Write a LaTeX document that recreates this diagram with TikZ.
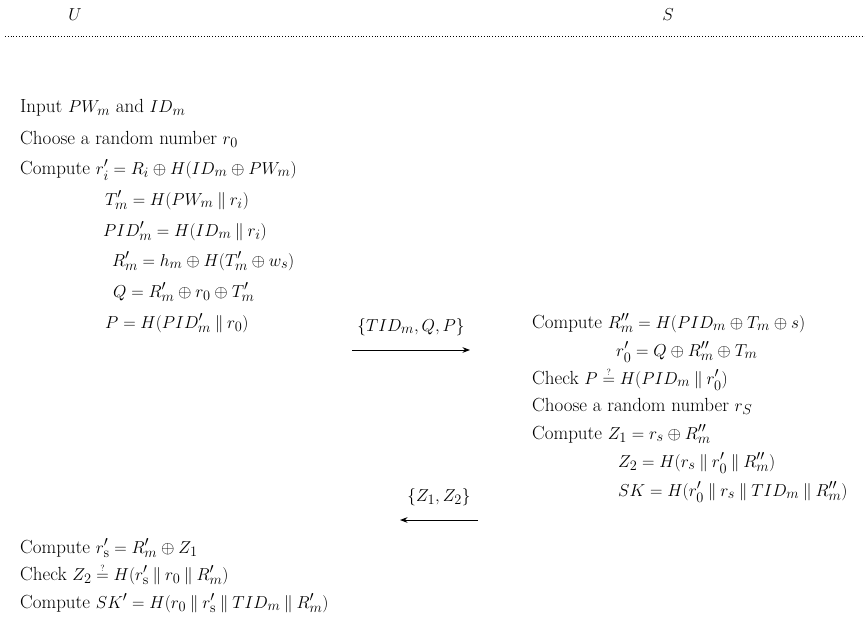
\documentclass[tikz,border=0pt]{standalone}
\usepackage{amsfonts,amssymb,amsmath}
\usepackage{tikz}
\usetikzlibrary{arrows.meta}

\tikzset{
  stepline/.style={anchor=base west,inner sep=0pt,text height=13pt,text depth=4pt,font=\fontsize{19}{23}\selectfont},
  party/.style={inner sep=0pt,font=\fontsize{19}{23}\selectfont},
  msg/.style={-Stealth,line width=1pt},
  msglabel/.style={above=14pt,inner sep=0pt,font=\fontsize{19}{23}\selectfont}
}
\newcommand{\cat}{\mathbin{\|}}
\newcommand{\chk}{\mathrel{\smash{\overset{\raisebox{-3pt}{$\scriptscriptstyle ?$}}{=}}}}

\begin{document}
\begin{tikzpicture}[x=1pt,y=-1pt,>=Stealth]
\useasboundingbox (0,0) rectangle (865,634);
\node[party] (U) at (75,15) {$U$};
\node[party] (S) at (668,15) {$S$};
\draw[dotted,line width=0.8pt] (5,36)--(865,36);
% user, registration side
\node[stepline] (u1) at (20,113) {Input $PW_m$ and $ID_m$};
\node[stepline] (u2) at (20,144) {Choose a random number $r_0$};
\node[stepline] (u3) at (20,174) {Compute $r_i' = R_i \oplus H(ID_m \oplus PW_m)$};
\node[stepline] (u4) at (105,205) {$T_m' = H(PW_m \cat r_i)$};
\node[stepline] (u5) at (103,236) {$PID_m' = H(ID_m \cat r_i)$};
\node[stepline] (u6) at (112,266) {$R_m' = h_m \oplus H(T_m' \oplus w_s)$};
\node[stepline] (u7) at (113,297) {$Q = R_m' \oplus r_0 \oplus T_m'$};
\node[stepline] (u8) at (105,328) {$P = H(PID_m' \cat r_0)$};
% server side
\node[stepline] (s1) at (532,328) {Compute $R_m'' = H(PID_m \oplus T_m \oplus s)$};
\node[stepline] (s2) at (616,356) {$r_0' = Q \oplus R_m'' \oplus T_m$};
\node[stepline] (s3) at (532,384) {Check $P \chk H(PID_m \cat r_0')$};
\node[stepline] (s4) at (532,411) {Choose a random number $r_S$};
\node[stepline] (s5) at (532,439) {Compute $Z_1 = r_s \oplus R_m''$};
\node[stepline] (s6) at (618,467) {$Z_2 = H(r_s \cat r_0' \cat R_m'')$};
\node[stepline] (s7) at (618,496) {$SK = H(r_0' \cat r_s \cat TID_m \cat R_m'')$};
% user, final checks
\node[stepline] (v1) at (20,553) {Compute $r_{\mathrm{s}}' = R_m' \oplus Z_1$};
\node[stepline] (v2) at (20,580) {Check $Z_2 \chk H(r_{\mathrm{s}}' \cat r_0 \cat R_m')$};
\node[stepline] (v3) at (20,608) {Compute $SK' = H(r_0 \cat r_{\mathrm{s}}' \cat TID_m \cat R_m')$};
% messages
\coordinate (m1a) at (352,350);
\coordinate (m1b) at (470,350);
\coordinate (m2a) at (478,520);
\coordinate (m2b) at (400,520);
\draw[msg] (m1a)--node[msglabel]{$\{TID_m, Q, P\}$}(m1b);
\draw[msg] (m2a)--node[msglabel]{$\{Z_1, Z_2\}$}(m2b);
\end{tikzpicture}
\end{document}
